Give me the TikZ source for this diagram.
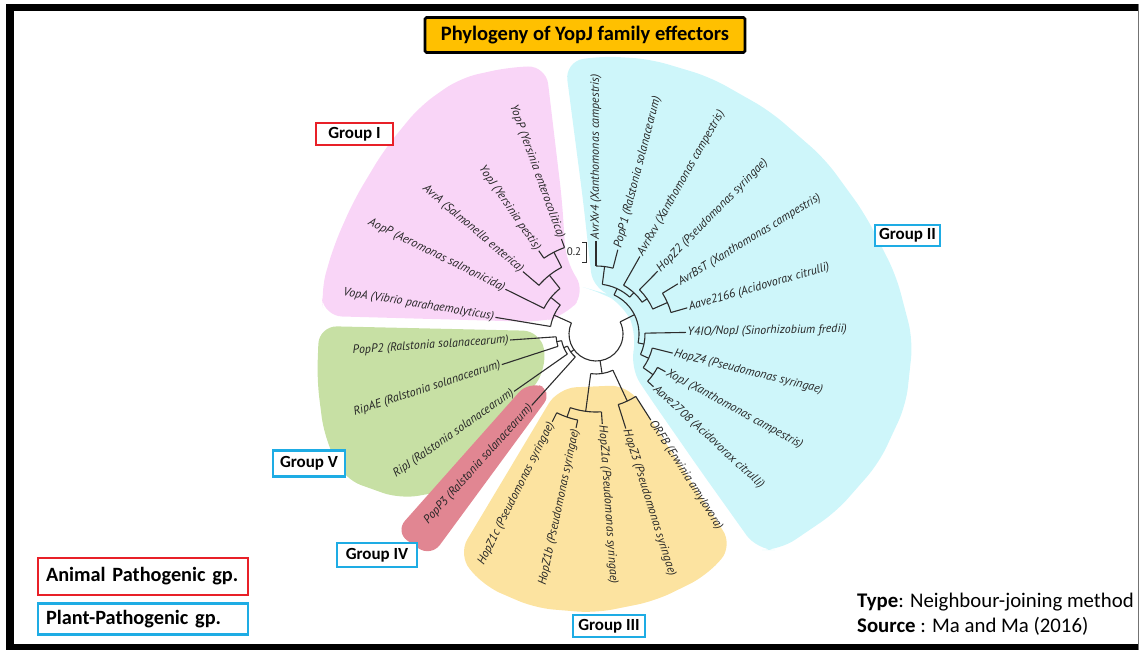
\documentclass[tikz,border=0pt]{standalone}
\usepackage{fontspec}
\setmainfont{Carlito}
\newfontfamily\leaffont{PT Sans}
\usetikzlibrary{positioning}

\definecolor{pinkbg}{RGB}{249,213,247}
\definecolor{cyanbg}{RGB}{206,246,250}
\definecolor{greenbg}{RGB}{199,224,164}
\definecolor{rosebg}{RGB}{225,134,146}
\definecolor{yellowbg}{RGB}{252,227,160}
\definecolor{titlegold}{RGB}{255,192,0}
\definecolor{animalred}{RGB}{232,32,40}
\definecolor{plantblue}{RGB}{30,172,228}
\definecolor{treeline}{RGB}{45,45,45}

\begin{document}
\begin{tikzpicture}[
    x=1pt, y=-1pt,
    leaf/.style={font=\leaffont\itshape\fontsize{12}{14}\selectfont, text=black!85, inner sep=1.5pt},
    leafin/.style={leaf, anchor=east},
    leafout/.style={leaf, anchor=west},
    branch/.style={draw=treeline, line width=1.1pt},
    clade/.style={rounded corners=18pt},
    groupbox/.style={rectangle, line width=2.3pt, fill=white, inner sep=0pt, font=\bfseries\fontsize{17}{20}\selectfont},
    animalgp/.style={groupbox, draw=animalred},
    plantgp/.style={groupbox, draw=plantblue},
    legendbox/.style={rectangle, line width=2.6pt, inner xsep=8pt, inner ysep=0pt, text width=194pt, align=left, font=\bfseries\fontsize{20.3}{24}\selectfont}
]
\useasboundingbox (0,0) rectangle (1140,650);

% Frame
\fill[black] (6,4) rectangle (1139,11);
\fill[black] (6,4) rectangle (14,650);
\fill[black] (6,644) rectangle (1139,650);
\draw[black!55, line width=1.2pt] (1138.4,4) -- (1138.4,650);

% Clade backgrounds
\fill[pinkbg, clade] (546,66) -- (562,200) -- (566,262) -- (586,292) -- (565,316) -- (540,322) -- (324,316) -- (321,290) -- (334,245) -- (354,200) -- (384,150) -- (420,106) -- (460,78) -- (510,67) -- cycle;
\fill[cyanbg, clade] (565,62) -- (600,56) -- (650,59) -- (710,77) -- (770,111) -- (825,159) -- (865,214) -- (896,275) -- (913,340) -- (906,405) -- (879,463) -- (836,512) -- (780,550) -- (757,550) -- (700,470) -- (650,398) -- (630,368) -- (637,335) -- (624,305) -- (600,292) -- (593,290) -- (583,200) -- cycle;
\fill[greenbg, clade] (319,326) -- (541,331) -- (547,368) -- (462,488) -- (400,499) -- (344,479) -- (324,435) -- (317,380) -- cycle;
\fill[rosebg, rounded corners=15pt] (529,381) -- (553,391) -- (431,557) -- (395,532) -- cycle;
\fill[yellowbg, clade] (558,388) -- (628,385) -- (733,546) -- (706,576) -- (655,601) -- (595,613) -- (535,608) -- (484,586) -- (458,555) -- cycle;

% Title
\node (title) [rectangle, draw=black, line width=2.6pt, fill=titlegold, rounded corners=1.5pt, minimum width=320pt, minimum height=35pt, font=\bfseries\fontsize{20.5}{24}\selectfont] at (585,35) {Phylogeny of YopJ family effectors};

% Tree
\begin{scope}[shift={(596,334)}, y=1pt]
  % Group I leaves
  \node (yopp) [leafin, rotate=-70] at (110:101) {YopP (Yersinia enterocolitica)};
  \node (yopj) [leafin, rotate=-55.5] at (124.5:101) {YopJ (Yersinia pestis)};
  \node (avra) [leafin, rotate=-40.5] at (139.5:96) {AvrA (Salmonella enterica)};
  \node (aopp) [leafin, rotate=-26.3] at (153.7:101) {AopP (Aeromonas salmonicida)};
  \node (vopa) [leafin, rotate=-9.4] at (170.6:102) {VopA (Vibrio parahaemolyticus)};
  % Group V and IV leaves
  \node (popp2) [leafin, rotate=4] at (184:86) {PopP2 (Ralstonia solanacearum)};
  \node (ripae) [leafin, rotate=18] at (198:99) {RipAE (Ralstonia solanacearum)};
  \node (ripj) [leafin, rotate=35] at (215:100) {RipJ (Ralstonia solanacearum)};
  \node (popp3) [leafin, rotate=48] at (228:96) {PopP3 (Ralstonia solanacearum)};
  % Group III leaves
  \node (hopz1c) [leafin, rotate=63.5] at (243.5:98) {HopZ1c (Pseudomonas syringae)};
  \node (hopz1b) [leafin, rotate=78] at (258:96) {HopZ1b (Pseudomonas syringae)};
  \node (hopz1a) [leafout, rotate=-86] at (274:90) {HopZ1a (Pseudomonas syringae)};
  \node (hopz3) [leafout, rotate=-72.5] at (287.5:99) {HopZ3 (Pseudomonas syringae)};
  \node (orfb) [leafout, rotate=-57.5] at (302.5:102) {ORFB (Erwinia amylovora)};
  % Group II leaves
  \node (aave2708) [leafout, rotate=-42.5] at (317.5:78) {Aave2708 (Acidovorax citrulli)};
  \node (xopj) [leafout, rotate=-28.5] at (331.5:79) {XopJ (Xanthomonas campestris)};
  \node (hopz4) [leafout, rotate=-14] at (346:79) {HopZ4 (Pseudomonas syringae)};
  \node (y4io) [leafout, rotate=1] at (1:90) {Y4IO/NopJ (Sinorhizobium fredii)};
  \node (aave2166) [leafout, rotate=16] at (16:95) {Aave2166 (Acidovorax citrulli)};
  \node (avrbst) [leafout, rotate=31.5] at (31.5:96) {AvrBsT (Xanthomonas campestris)};
  \node (hopz2) [leafout, rotate=45.5] at (45.5:88) {HopZ2 (Pseudomonas syringae)};
  \node (avrrxv) [leafout, rotate=60.5] at (60.5:89) {AvrRxv (Xanthomonas campestris)};
  \node (popp1) [leafout, rotate=75.5] at (75.5:87) {PopP1 (Ralstonia solanacearum)};
  \node (avrxv4) [leafout, rotate=90] at (90:93) {AvrXv4 (Xanthomonas campestris)};

  % Terminal branches
  \draw[branch] (110:92) -- (yopp.east);
  \draw[branch] (124.5:92) -- (yopj.east);
  \draw[branch] (139.5:75) -- (avra.east);
  \draw[branch] (153.7:58) -- (aopp.east);
  \draw[branch] (170.6:46) -- (vopa.east);
  \draw[branch] (184:40) -- (popp2.east);
  \draw[branch] (198:40) -- (ripae.east);
  \draw[branch] (215:35) -- (ripj.east);
  \draw[branch] (228:31) -- (popp3.east);
  \draw[branch] (243.5:88) -- (hopz1c.east);
  \draw[branch] (258:88) -- (hopz1b.east);
  \draw[branch] (274:78) -- (hopz1a.west);
  \draw[branch] (287.5:74) -- (hopz3.west);
  \draw[branch] (302.5:74) -- (orfb.west);
  \draw[branch] (317.5:70) -- (aave2708.west);
  \draw[branch] (331.5:70) -- (xopj.west);
  \draw[branch] (346:58) -- (hopz4.west);
  \draw[branch] (1:49) -- (y4io.west);
  \draw[branch] (16:78) -- (aave2166.west);
  \draw[branch] (31.5:78) -- (avrbst.west);
  \draw[branch] (45.5:62) -- (hopz2.west);
  \draw[branch] (60.5:56) -- (avrrxv.west);
  \draw[branch] (75.5:68) -- (popp1.west);
  \draw[branch] (90:68) -- (avrxv4.west);

  % Internal nodes
  \coordinate (g1a) at (117.25:92);
  \coordinate (g1b) at (128.4:75);
  \coordinate (g1c) at (141:58);
  \coordinate (g1d) at (155.8:46);
  \coordinate (g5a) at (191:40);
  \coordinate (g5b) at (203:35);
  \coordinate (g5c) at (215.5:31);
  \coordinate (g3a) at (250.75:88);
  \coordinate (g3b) at (262.4:78);
  \coordinate (g3c) at (295:74);
  \coordinate (g3d) at (278.7:40);
  \coordinate (g2a) at (324.5:70);
  \coordinate (g2b) at (335.25:58);
  \coordinate (g2c) at (348.1:49);
  \coordinate (g2d) at (23.75:78);
  \coordinate (g2e) at (34.6:62);
  \coordinate (g2f) at (47.55:56);
  \coordinate (g2g) at (82.75:68);
  \coordinate (g2h) at (65.15:50);
  \coordinate (g2i) at (26.6:43);

  % Arcs joining sister branches
  \draw[branch] (110:92) arc[start angle=110, end angle=124.5, radius=92];
  \draw[branch] (117.25:75) arc[start angle=117.25, end angle=139.5, radius=75];
  \draw[branch] (128.4:58) arc[start angle=128.4, end angle=153.7, radius=58];
  \draw[branch] (141:46) arc[start angle=141, end angle=170.6, radius=46];
  \draw[branch] (184:40) arc[start angle=184, end angle=198, radius=40];
  \draw[branch] (191:35) arc[start angle=191, end angle=215, radius=35];
  \draw[branch] (203:31) arc[start angle=203, end angle=228, radius=31];
  \draw[branch] (243.5:88) arc[start angle=243.5, end angle=258, radius=88];
  \draw[branch] (250.75:78) arc[start angle=250.75, end angle=274, radius=78];
  \draw[branch] (287.5:74) arc[start angle=287.5, end angle=302.5, radius=74];
  \draw[branch] (262.4:40) arc[start angle=262.4, end angle=295, radius=40];
  \draw[branch] (317.5:70) arc[start angle=317.5, end angle=331.5, radius=70];
  \draw[branch] (324.5:58) arc[start angle=324.5, end angle=346, radius=58];
  \draw[branch] (335.25:49) arc[start angle=335.25, end angle=361, radius=49];
  \draw[branch] (16:78) arc[start angle=16, end angle=31.5, radius=78];
  \draw[branch] (23.75:62) arc[start angle=23.75, end angle=45.5, radius=62];
  \draw[branch] (34.6:56) arc[start angle=34.6, end angle=60.5, radius=56];
  \draw[branch] (75.5:68) arc[start angle=75.5, end angle=90, radius=68];
  \draw[branch] (47.55:50) arc[start angle=47.55, end angle=82.75, radius=50];
  \draw[branch] (-11.9:43) arc[start angle=-11.9, end angle=65.15, radius=43];
  \draw[branch] (155.8:27) arc[start angle=155.8, end angle=386.6, radius=27];

  % Stems down to parent arcs
  \draw[branch] (g1a) -- (117.25:75);
  \draw[branch] (g1b) -- (128.4:58);
  \draw[branch] (g1c) -- (141:46);
  \draw[branch] (g1d) -- (155.8:27);
  \draw[branch] (g5a) -- (191:35);
  \draw[branch] (g5b) -- (203:31);
  \draw[branch] (g5c) -- (215.5:27);
  \draw[branch] (g3a) -- (250.75:78);
  \draw[branch] (g3b) -- (262.4:40);
  \draw[branch] (g3c) -- (295:40);
  \draw[branch] (g3d) -- (278.7:27);
  \draw[branch] (g2a) -- (324.5:58);
  \draw[branch] (g2b) -- (335.25:49);
  \draw[branch] (g2c) -- (348.1:43);
  \draw[branch] (g2d) -- (23.75:62);
  \draw[branch] (g2e) -- (34.6:56);
  \draw[branch] (g2f) -- (47.55:50);
  \draw[branch] (g2g) -- (82.75:50);
  \draw[branch] (g2h) -- (65.15:43);
  \draw[branch] (g2i) -- (26.6:27);
\end{scope}

% Scale bar
\node (scalelbl) [font=\leaffont\fontsize{11}{12}\selectfont, text=black!85, inner sep=0pt] at (574,252) {0.2};
\draw[treeline, line width=1pt] (582,242) -- (586,242) -- (586,262) -- (582,262);

% Group labels
\node (grpI) [animalgp, minimum width=77pt, minimum height=22pt] at (354.5,134) {Group I};
\node (grpII) [plantgp, minimum width=65pt, minimum height=21pt] at (907.5,235.5) {Group II};
\node (grpIII) [plantgp, minimum width=72pt, minimum height=22pt] at (609,626) {Group III};
\node (grpIV) [plantgp, minimum width=80pt, minimum height=24pt] at (377,555) {Group IV};
\node (grpV) [plantgp, minimum width=72pt, minimum height=26pt] at (309,463.5) {Group V};

% Legend
\node (animal) [legendbox, draw=animalred, minimum height=37pt] at (143,576.5) {Animal Pathogenic gp.};
\node (plant) [legendbox, draw=plantblue, minimum height=31pt, below=6pt of animal] {Plant-Pathogenic gp.};

% Method and source
\node (method) [anchor=base west, inner sep=0pt, font=\fontsize{20.8}{24}\selectfont] at (857,607) {\textbf{Type}: Neighbour-joining method};
\node (source) [anchor=base west, inner sep=0pt, font=\fontsize{20.8}{24}\selectfont] at (857,632) {\textbf{Source} : Ma and Ma (2016)};

\end{tikzpicture}
\end{document}
